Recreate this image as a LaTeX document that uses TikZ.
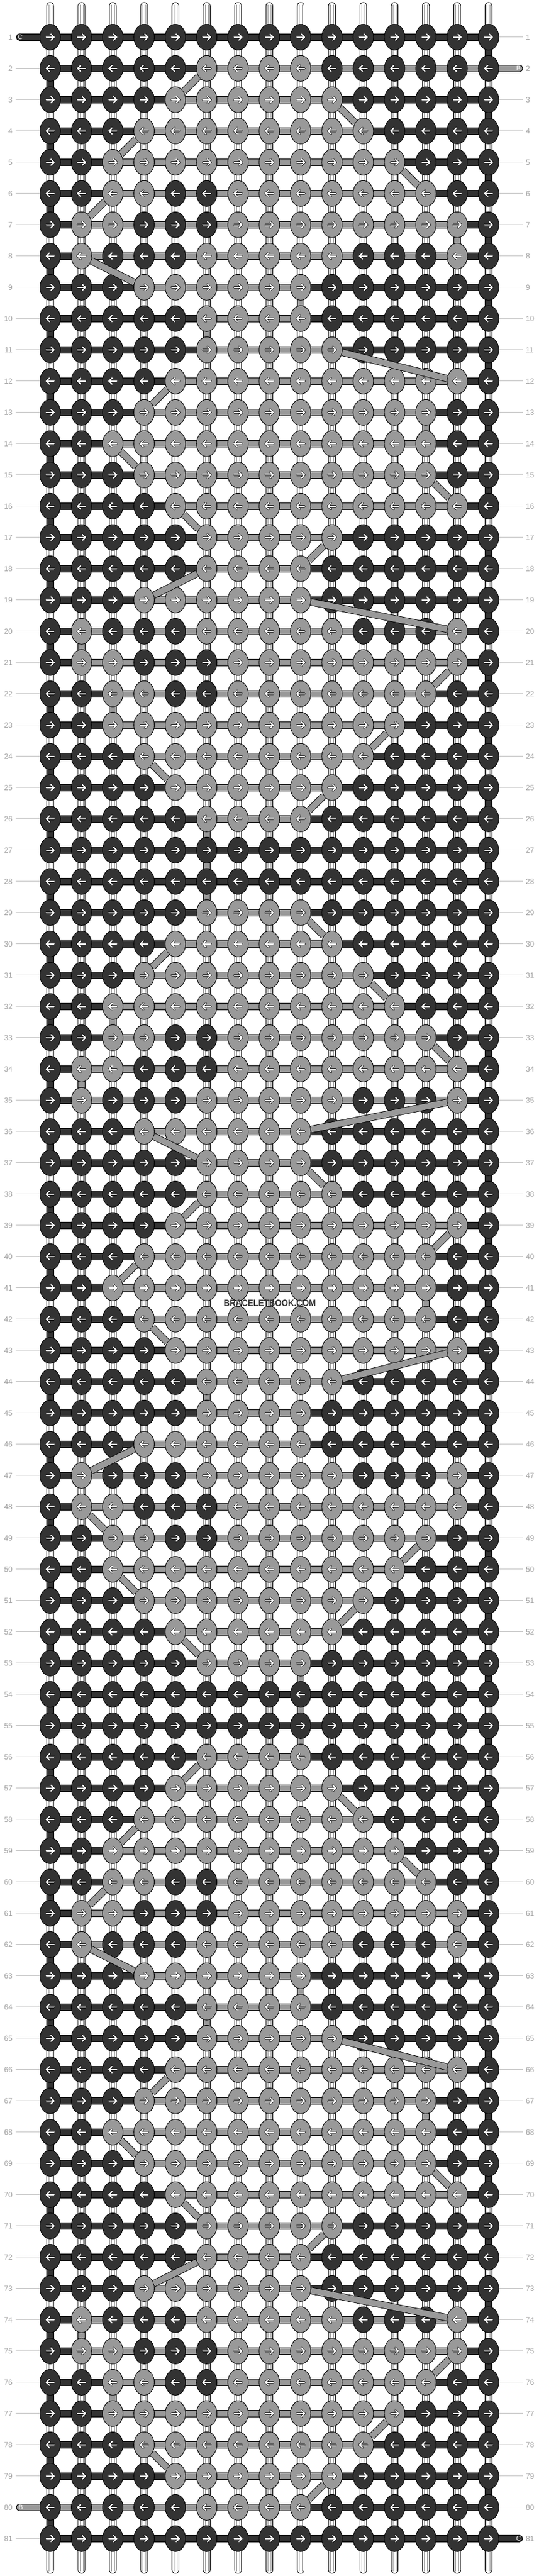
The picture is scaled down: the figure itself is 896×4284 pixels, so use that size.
\documentclass[tikz,border=0pt]{standalone}
\usepackage{fontspec}
\setmainfont{Liberation Sans}
\usetikzlibrary{calc,positioning,shapes.geometric}
\pgfdeclarelayer{threads}
\pgfsetlayers{threads,main}
\definecolor{knotdark}{HTML}{333333}
\definecolor{knotgrey}{HTML}{999999}
\definecolor{labelgrey}{HTML}{A3A3A3}
\definecolor{linegrey}{HTML}{C4C4C4}
\tikzstyle{knot0}=[ellipse, draw=black, line width=0.9pt, fill=knotdark, minimum width=34pt, minimum height=43pt, inner sep=0]
\tikzstyle{knot1}=[knot0, fill=knotgrey]
\tikzstyle{seg0}=[draw=black, line width=0.9pt, fill=knotdark]
\tikzstyle{seg1}=[draw=black, line width=0.9pt, fill=knotgrey]
\tikzstyle{whitestring}=[draw=black, line width=0.9pt, fill=white]
\tikzstyle{stringline}=[draw=black!40, line width=0.6pt]
\tikzstyle{diagout}=[draw=black, line width=11.8pt]
\tikzstyle{diagin}=[draw=knotgrey, line width=10pt]
\tikzstyle{arrowout}=[draw=black, line width=3.4pt, line cap=round, line join=round]
\tikzstyle{arrowin}=[draw=white, line width=2pt, line cap=round, line join=round]
\tikzstyle{rowlabel}=[text=labelgrey, font=\fontsize{12.5}{12.5}\selectfont, inner sep=0]
\tikzstyle{labelline}=[draw=linegrey, line width=1pt]
\tikzstyle{taillabel}=[text=white, font=\fontsize{11}{11}\selectfont, inner sep=0]
\newcommand{\setknots}[2]{\expandafter\def\csname knots#1\endcsname{#2}}
\setknots{1}{0,0,0,0,0,1,1,1,1,0,0,0,0,0,0}
\setknots{2}{0,0,0,0,1,1,1,1,1,1,0,0,0,0,0}
\setknots{3}{0,0,0,1,1,1,1,1,1,1,1,0,0,0,0}
\setknots{4}{0,0,1,1,1,1,1,1,1,1,1,1,0,0,0}
\setknots{5}{0,0,1,1,0,0,1,1,1,1,1,1,1,0,0}
\setknots{6}{0,1,1,0,0,0,1,1,1,1,1,1,1,1,0}
\setknots{7}{0,1,0,0,0,1,1,1,1,1,0,0,0,1,0}
\setknots{8}{0,0,0,1,1,1,1,1,1,0,0,0,0,0,0}
\setknots{9}{0,0,0,0,0,1,1,1,1,0,0,0,0,0,0}
\setknots{10}{0,0,0,0,0,1,1,1,1,1,0,0,0,0,0}
\setknots{11}{0,0,0,0,1,1,1,1,1,1,1,1,1,1,0}
\setknots{12}{0,0,0,1,1,1,1,1,1,1,1,1,1,0,0}
\setknots{13}{0,0,1,1,1,1,1,1,1,1,1,1,1,0,0}
\setknots{14}{0,0,0,1,1,1,1,1,1,1,1,1,1,0,0}
\setknots{15}{0,0,0,0,1,1,1,1,1,1,1,1,1,1,0}
\setknots{16}{0,0,0,0,0,1,1,1,1,1,0,0,0,0,0}
\setknots{17}{0,0,0,0,0,1,1,1,1,0,0,0,0,0,0}
\setknots{18}{0,0,0,1,1,1,1,1,1,0,0,0,0,0,0}
\setknots{19}{0,1,0,0,0,1,1,1,1,1,0,0,0,1,0}
\setknots{20}{0,1,1,0,0,0,1,1,1,1,1,1,1,1,0}
\setknots{21}{0,0,1,1,0,0,1,1,1,1,1,1,1,0,0}
\setknots{22}{0,0,1,1,1,1,1,1,1,1,1,1,0,0,0}
\setknots{23}{0,0,0,1,1,1,1,1,1,1,1,0,0,0,0}
\setknots{24}{0,0,0,0,1,1,1,1,1,1,0,0,0,0,0}
\setknots{25}{0,0,0,0,0,1,1,1,1,0,0,0,0,0,0}
\setknots{26}{0,0,0,0,0,0,0,0,0,0,0,0,0,0,0}
\setknots{27}{0,0,0,0,0,0,0,0,0,0,0,0,0,0,0}
\def\bentry{{0,16,5,11,3,13,2,14,4,9,6,14,4,13,4,14,6,9,4,14,2,13,3,11,5,9,6,6,6,10,4,12,3,14,2,9,6,10,5,13,3,13,5,10,6,9,2,14,3,12,4,10,6,9,9,9,5,11,3,13,2,14,4,9,6,14,4,13,4,14,6,9,4,14,2,13,3,11,5,9,0}}
\def\bexit{{0,6,10,4,12,3,14,2,9,6,10,5,13,3,13,5,10,6,9,2,14,3,12,4,10,6,6,6,9,5,11,3,13,2,14,4,9,6,14,4,13,4,14,6,9,4,14,2,13,3,11,5,9,9,9,6,10,4,12,3,14,2,9,6,10,5,13,3,13,5,10,6,9,2,14,3,12,4,10,0,0}}
\begin{document}
\begin{tikzpicture}[x=1pt,y=-1pt]
\useasboundingbox (0,0) rectangle (896,4284);
% knots
\foreach \r in {1,...,81} {
  \pgfmathtruncatemacro\m{mod(\r+25,27)+1}
  \pgfmathsetmacro\yy{61.8+52*(\r-1)}
  \expandafter\let\expandafter\rowknots\csname knots\m\endcsname
  \foreach \v [count=\c] in \rowknots
    \node[knot\v] (k\r-\c) at ({83.4+52.05*(\c-1)},\yy) {};
  \pgfmathsetmacro\tailx{isodd(\r) ? -6.5 : 6.5}
  \pgfmathsetmacro\len{isodd(\r) ? 13 : -13}
  \pgfmathsetmacro\back{isodd(\r) ? -5.2 : 5.2}
  \pgfmathsetmacro\fwd{isodd(\r) ? 5.2 : -5.2}
  \foreach \sty in {arrowout,arrowin}
    \draw[\sty] \foreach \c in {1,...,15} {($(k\r-\c)+(\tailx,0)$) -- ++(\len,0) ++(\back,-5) -- ++(\fwd,5) -- ++(\back,5)};
}
\foreach \c in {1,...,15} {
  \coordinate (top\c) at ($(k1-\c)+(0,-57.8)$);
  \coordinate (bot\c) at ($(k81-\c)+(0,57.8)$);
}
\coordinate (tailC1) at (27,61.8);
\coordinate (tailB2) at (869,113.8);
\coordinate (tailB80) at (27,4169.8);
\coordinate (tailC81) at (869,4221.8);
\begin{pgfonlayer}{threads}
% base strings
\foreach \c in {1,...,15} {
  \draw[whitestring, rounded corners=5.7pt] ($(top\c)+(-5.7,0)$) rectangle ($(bot\c)+(5.7,0)$);
  \draw[stringline] ($(top\c)+(-2.4,4)$) -- ($(bot\c)+(-2.4,-4)$) ($(top\c)+(2.4,4)$) -- ($(bot\c)+(2.4,-4)$);
}
% rows
\foreach \r in {1,...,81} {
  \pgfmathtruncatemacro\ex{\bexit[\r-1]}
  \pgfmathtruncatemacro\en{\bentry[\r-1]}
  \pgfmathtruncatemacro\lo{max(min(\ex,\en),1)}
  \pgfmathtruncatemacro\hi{min(max(\ex,\en),15)}
  \draw[seg0] ($(k\r-1)+(0,-5.5)$) rectangle ($(k\r-15)+(0,5.5)$);
  \ifnum\hi>\lo\relax
    \draw[seg1] ($(k\r-\lo)+(0,-5.5)$) rectangle ($(k\r-\hi)+(0,5.5)$);
  \fi
}
% turns at the edges and straight drops of B
\foreach \r in {1,...,80} {
  \pgfmathtruncatemacro\s{\r+1}
  \pgfmathtruncatemacro\ex{\bexit[\r-1]}
  \pgfmathtruncatemacro\en{\bentry[\r]}
  \pgfmathtruncatemacro\edge{isodd(\r) ? 15 : 1}
  \draw[seg0] ($(k\r-\edge)+(-5.7,0)$) rectangle ($(k\s-\edge)+(5.7,0)$);
  \ifnum\ex=\en\relax \ifnum\ex>0\relax
    \draw[seg1] ($(k\r-\ex)+(-5.7,0)$) rectangle ($(k\s-\en)+(5.7,0)$);
  \fi\fi
}
% tails
\draw[seg0, rounded corners=5.5pt] ($(tailC1)+(0,-5.5)$) rectangle ($(k1-1)+(0,5.5)$);
\draw[seg1, rounded corners=5.5pt] ($(k2-15)+(0,-5.5)$) rectangle ($(tailB2)+(0,5.5)$);
\draw[seg1, rounded corners=5.5pt] ($(tailB80)+(0,-5.5)$) rectangle ($(k80-1)+(0,5.5)$);
\draw[seg0, rounded corners=5.5pt] ($(k81-15)+(0,-5.5)$) rectangle ($(tailC81)+(0,5.5)$);
\end{pgfonlayer}
\node[taillabel] (labC1) at (33.7,61.8) {C};
\node[taillabel] (labB2) at (862,113.8) {B};
\node[taillabel] (labB80) at (34.5,4169.8) {B};
\node[taillabel] (labC81) at (862,4221.8) {C};
% slanted pieces
\foreach \r in {1,...,80} {
  \pgfmathtruncatemacro\s{\r+1}
  \pgfmathtruncatemacro\ex{\bexit[\r-1]}
  \pgfmathtruncatemacro\en{\bentry[\r]}
  \ifnum\ex>0\relax \ifnum\en<16\relax \ifnum\ex=\en\relax\else
    \draw[diagout] (k\r-\ex) -- (k\s-\en);
    \draw[diagin] (k\r-\ex) -- (k\s-\en);
  \fi\fi\fi
}
% row numbers
\foreach \r in {1,...,81} {
  \node[rowlabel, anchor=east] (ll\r) at (21,{61.8+52*(\r-1)}) {\r};
  \node[rowlabel, anchor=west] (rl\r) at (874,{61.8+52*(\r-1)}) {\r};
  \ifnum\r=1\relax\else\ifnum\r=80\relax\else
    \draw[labelline] ([xshift=5pt]ll\r.east) -- (k\r-1.west);
  \fi\fi
  \ifnum\r=2\relax\else\ifnum\r=81\relax\else
    \draw[labelline] (k\r-15.east) -- ([xshift=-5pt]rl\r.west);
  \fi\fi
}
\node[text=knotdark, font=\bfseries\fontsize{15.4}{15.4}\selectfont, inner sep=0] (mark) at (448.5,2167) {\scalebox{0.9}[1]{BRACELETBOOK.COM}};
\end{tikzpicture}
\end{document}
